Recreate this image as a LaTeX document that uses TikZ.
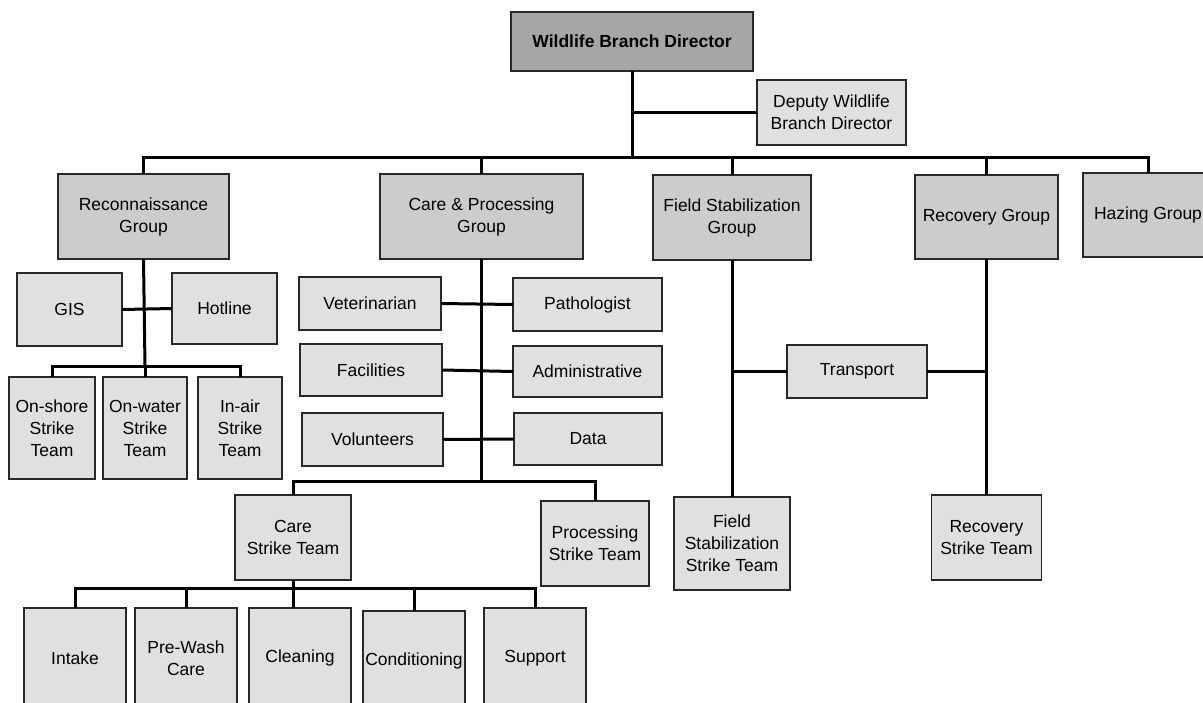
\documentclass[tikz,border=0pt]{standalone}
\usepackage{fontspec}
\setmainfont{Liberation Sans}
\definecolor{chiefgray}{RGB}{166,166,166}
\definecolor{groupgray}{RGB}{204,204,204}
\definecolor{unitgray}{RGB}{224,224,224}
\definecolor{edgegray}{RGB}{40,40,40}
\begin{document}
\begin{tikzpicture}[x=1pt, y=-1pt,
    anybox/.style={draw=edgegray, line width=1.8pt, inner sep=0pt, outer sep=0pt, align=center,
        font=\fontsize{17.5}{22}\selectfont},
    chiefbox/.style={anybox, fill=chiefgray, font=\fontsize{17.5}{22}\selectfont\bfseries},
    groupbox/.style={anybox, fill=groupgray},
    unitbox/.style={anybox, fill=unitgray},
    link/.style={line width=3pt, black}]
    \clip (0,0) rectangle (1203,702);

    % Direccion
    \node[chiefbox, minimum width=242, minimum height=59] (dir) at (632,41.5) {Wildlife Branch Director};
    \node[unitbox, minimum width=149, minimum height=65] (dep) at (831.5,112.5) {Deputy Wildlife\\Branch Director};
    \coordinate (bus) at (632,157);
    \draw[link] (dir.south) -- (bus);
    \draw[link] (dep.west) -- (dep.west -| dir.south);

    % Grupos
    \node[groupbox, minimum width=171, minimum height=85] (rec) at (143.5,216.5) {Reconnaissance\\Group};
    \node[groupbox, minimum width=203, minimum height=85] (cp) at (481.5,216.5) {Care \& Processing\\Group};
    \node[groupbox, minimum width=158, minimum height=85] (fs) at (732,217.5) {Field Stabilization\\Group};
    \node[groupbox, minimum width=143, minimum height=84] (rg) at (986.5,217) {Recovery Group};
    \node[groupbox, minimum width=130, minimum height=84] (haz) at (1148,215) {Hazing Group};
    \draw[link] (rec.north) |- (bus) -| (haz.north);
    \draw[link] (cp.north) -- (cp.north |- bus);
    \draw[link] (fs.north) -- (fs.north |- bus);
    \draw[link] (rg.north) -- (rg.north |- bus);

    % Reconocimiento
    \node[unitbox, minimum width=105, minimum height=73] (gis) at (69.5,309.5) {GIS};
    \node[unitbox, minimum width=105, minimum height=71] (hot) at (224.5,308.5) {Hotline};
    \node[unitbox, minimum width=86, minimum height=102] (on1) at (52,428) {On-shore\\Strike\\Team};
    \node[unitbox, minimum width=84, minimum height=102] (on2) at (145,428) {On-water\\Strike\\Team};
    \node[unitbox, minimum width=84, minimum height=102] (on3) at (240,428) {In-air\\Strike\\Team};
    \coordinate (recJ) at (145,366);
    \draw[link] (rec.south) -- (recJ);
    \draw[link] (gis.east) -- (hot.west);
    \draw[link] (on1.north) |- (recJ) -| (on3.north);
    \draw[link] (on2.north) -- (recJ);

    % Cuidado y procesamiento
    \node[unitbox, minimum width=142, minimum height=53] (vet) at (370,303.5) {Veterinarian};
    \node[unitbox, minimum width=149, minimum height=53] (pat) at (587.5,304.5) {Pathologist};
    \node[unitbox, minimum width=142, minimum height=52] (fac) at (371,370) {Facilities};
    \node[unitbox, minimum width=149, minimum height=51] (adm) at (587.5,371.5) {Administrative};
    \node[unitbox, minimum width=141, minimum height=53] (vol) at (372.5,439.5) {Volunteers};
    \node[unitbox, minimum width=148, minimum height=52] (dat) at (588,439) {Data};
    \coordinate (cpJ) at (481.5,481);
    \draw[link] (cp.south) -- (cpJ);
    \draw[link] (vet.east) -- (pat.west);
    \draw[link] (fac.east) -- (adm.west);
    \draw[link] (vol.east) -- (dat.west);

    % Equipos de cuidado
    \node[unitbox, minimum width=116, minimum height=85] (cst) at (293,537.5) {Care\\Strike Team};
    \node[unitbox, minimum width=108, minimum height=85] (pst) at (595,543.5) {Processing\\Strike Team};
    \draw[link] (cst.north) |- (cpJ) -| (pst.north);
    \node[unitbox, minimum width=102, minimum height=100] (int) at (75,658) {Intake};
    \node[unitbox, minimum width=102, minimum height=100] (pre) at (186,658) {Pre-Wash\\Care};
    \node[unitbox, minimum width=102, minimum height=100] (cle) at (300,658) {Cleaning};
    \node[unitbox, minimum width=102, minimum height=100] (con) at (414,661) {Conditioning};
    \node[unitbox, minimum width=102, minimum height=100] (sup) at (535,658) {Support};
    \coordinate (cstJ) at (293,588);
    \draw[link] (cst.south) -- (cstJ) -- (cstJ |- cle.north);
    \draw[link] (int.north) |- (cstJ) -| (sup.north);
    \draw[link] (pre.north) -- (pre.north |- cstJ);
    \draw[link] (con.north) -- (con.north |- cstJ);

    % Estabilizacion y recuperacion
    \node[unitbox, minimum width=140, minimum height=53] (tr) at (857,371.5) {Transport};
    \node[unitbox, minimum width=116, minimum height=93] (fss) at (732,543.5) {Field\\Stabilization\\Strike Team};
    \node[unitbox, minimum width=110, minimum height=85] (rss) at (986.5,537.5) {Recovery\\Strike Team};
    \draw[link] (fs.south) -- (fss.north);
    \draw[link] (rg.south) -- (rss.north);
    \draw[link] (tr.west) -- (tr.west -| fs.south);
    \draw[link] (tr.east) -- (tr.east -| rg.south);
\end{tikzpicture}
\end{document}
